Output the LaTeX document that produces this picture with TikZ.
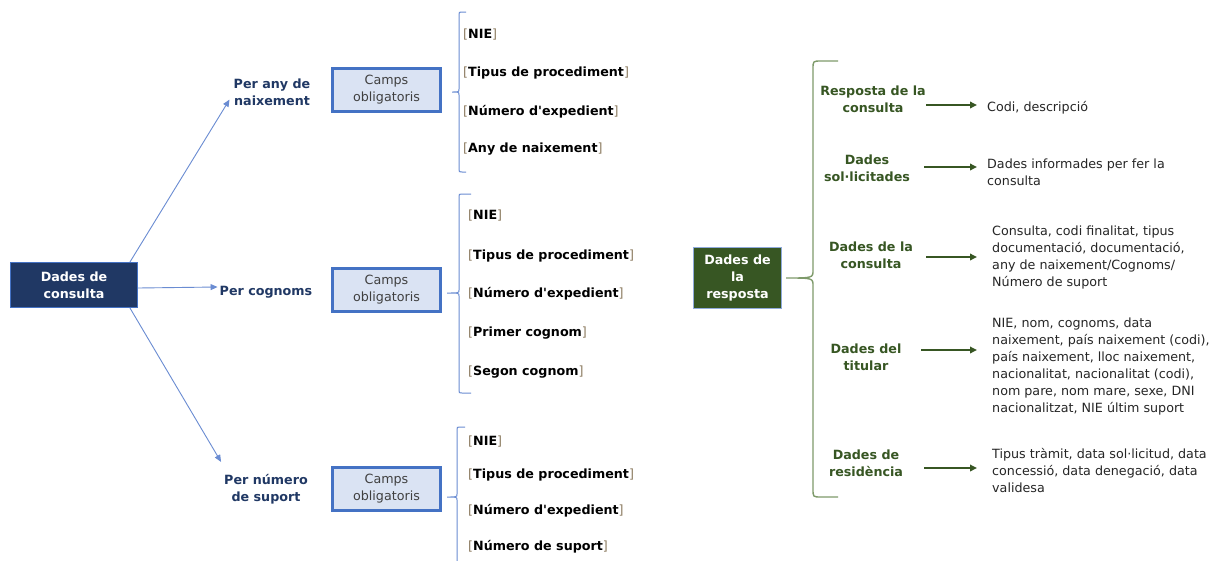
\documentclass[tikz,border=0pt]{standalone}
\usepackage{fontspec}
\setmainfont{DejaVu Sans}
\usetikzlibrary{arrows.meta,calc}
\definecolor{navy}{HTML}{203864}
\definecolor{blueln}{HTML}{4472C4}
\definecolor{bluethin}{HTML}{6A8CD2}
\definecolor{lightblue}{HTML}{DAE3F3}
\definecolor{dkgreen}{HTML}{375623}
\definecolor{brgreen}{HTML}{7E9A6A}
\definecolor{txt}{HTML}{262626}
\definecolor{camptxt}{HTML}{404040}
\definecolor{brk}{HTML}{8C7B60}
\definecolor{boxedge}{HTML}{8FAADC}
\newcommand{\fs}{\fontsize{12.7}{17}\selectfont}
\newcommand{\bk}[1]{{\mdseries\color{brk}[}#1{\mdseries\color{brk}]}}
% style, x, top, mid, bottom, hook x, tip x, cusp half height, corner radius
\newcommand{\sqbrace}[9]{%
  \draw[#1] (#6,#3) -- (#2+#9,#3) .. controls (#2,#3) .. (#2,#3+#9)
    -- (#2,#4-#8) .. controls (#2,#4) .. (#7,#4)
    .. controls (#2,#4) .. (#2,#4+#8)
    -- (#2,#5-#9) .. controls (#2,#5) .. (#2+#9,#5) -- (#6,#5);}
\tikzset{
  darkbox/.style={draw=blueln, line width=0.8pt, fill=navy, text=white,
    font=\fs\bfseries, align=center, minimum width=127pt, minimum height=45pt, inner sep=0pt},
  greenbox/.style={draw=boxedge, line width=0.8pt, fill=dkgreen, text=white,
    font=\fs\bfseries, align=center, minimum width=88pt, minimum height=61pt, inner sep=0pt},
  lbl/.style={font=\fs\bfseries, text=navy, align=center, inner sep=2pt},
  camps/.style={draw=blueln, line width=3pt, fill=lightblue, text=camptxt, font=\fs,
    align=center, minimum width=108pt, minimum height=43pt, inner sep=0pt},
  item/.style={font=\fs\bfseries, text=black, anchor=west, inner sep=0pt},
  barr/.style={draw=bluethin, line width=0.9pt, -{Triangle[length=7pt,width=6pt]}},
  bbr/.style={draw=bluethin, line width=1pt},
  gbr/.style={draw=brgreen, line width=1.4pt},
  glbl/.style={font=\fs\bfseries, text=dkgreen, align=center, inner sep=2pt},
  garr/.style={draw=dkgreen, line width=1.7pt, -{Triangle[length=7pt,width=6.5pt]}},
  desc/.style={font=\fs, text=txt, align=left, anchor=west, inner sep=0pt}
}
\begin{document}
\begin{tikzpicture}[x=1pt,y=-1pt]
\useasboundingbox (0,0) rectangle (1217,560);
\clip (0,0) rectangle (1217,560);
\fill[white] (0,0) rectangle (1217,560);

% ---------- left part ----------
\node[darkbox] (dc) at (74,285) {Dades de\\consulta};
\node[lbl] (pa) at (272,92) {Per any de\\naixement};
\node[lbl] (pc) at (266,292) {Per cognoms};
\node[lbl] (ps) at (266,489) {Per número\\de suport};

\draw[barr] ([xshift=-8pt]dc.north east) -- ([shift={(-2pt,8pt)}]pa.south west);
\draw[barr] ([yshift=-3pt]dc.east) -- ([yshift=5pt]pc.west);
\draw[barr] ([xshift=-8pt]dc.south east) -- ([shift={(-1pt,10pt)}]ps.north west);

\node[camps] (cb1) at (386.5,90) {Camps\\obligatoris};
\node[camps] (cb2) at (386.5,290) {Camps\\obligatoris};
\node[camps] (cb3) at (386.5,489) {Camps\\obligatoris};

\sqbrace{bbr}{459}{12}{92}{172}{466}{452}{3}{3}
\sqbrace{bbr}{459}{194}{293}{393}{471}{447}{3}{3}
\sqbrace{bbr}{457}{427}{497}{567}{465}{447}{3}{3}

\node[item] (g1a) at (463,35)  {\bk{NIE}};
\node[item] (g1b) at (463,73)  {\bk{Tipus de procediment}};
\node[item] (g1c) at (463,112) {\bk{Número d\textquotesingle expedient}};
\node[item] (g1d) at (463,149) {\bk{Any de naixement}};

\node[item] (g2a) at (468,216) {\bk{NIE}};
\node[item] (g2b) at (468,256) {\bk{Tipus de procediment}};
\node[item] (g2c) at (468,294) {\bk{Número d\textquotesingle expedient}};
\node[item] (g2d) at (468,333) {\bk{Primer cognom}};
\node[item] (g2e) at (468,372) {\bk{Segon cognom}};

\node[item] (g3a) at (468,442) {\bk{NIE}};
\node[item] (g3b) at (468,475) {\bk{Tipus de procediment}};
\node[item] (g3c) at (468,511) {\bk{Número d\textquotesingle expedient}};
\node[item] (g3d) at (468,547) {\bk{Número de suport}};

% ---------- right part ----------
\node[greenbox] (dr) at (737.5,278) {Dades de\\la\\resposta};
\sqbrace{gbr}{813}{61}{278}{497}{838}{786}{8}{8}

\node[glbl] (l1) at (873,99.5)  {Resposta de la\\consulta};
\node[glbl] (l2) at (867,168.5) {Dades\\sol·licitades};
\node[glbl] (l3) at (871,255.5) {Dades de la\\consulta};
\node[glbl] (l4) at (866,357.5) {Dades del\\titular};
\node[glbl] (l5) at (866,463)   {Dades de\\residència};

\node[desc] (d1) at (987,108)   {Codi, descripció};
\node[desc] (d2) at (987,172)   {Dades informades per fer la\\consulta};
\node[desc] (d3) at (992,257.5) {Consulta, codi finalitat, tipus\\documentació, documentació,\\any de naixement/Cognoms/\\Número de suport};
\node[desc] (d4) at (992,366.5) {NIE, nom, cognoms, data\\naixement, país naixement (codi),\\país naixement, lloc naixement,\\nacionalitat, nacionalitat (codi),\\nom pare, nom mare, sexe, DNI\\nacionalitzat, NIE últim suport};
\node[desc] (d5) at (992,471)   {Tipus tràmit, data sol·licitud, data\\concessió, data denegació, data\\validesa};

\coordinate (s1) at (926,105);
\coordinate (s2) at (924,167);
\coordinate (s3) at (926,257);
\coordinate (s4) at (921,350);
\coordinate (s5) at (924,468);
\draw[garr, shorten >=10pt] (s1) -- (s1 -| d1.west);
\draw[garr, shorten >=10pt] (s2) -- (s2 -| d2.west);
\draw[garr, shorten >=15pt] (s3) -- (s3 -| d3.west);
\draw[garr, shorten >=15pt] (s4) -- (s4 -| d4.west);
\draw[garr, shorten >=15pt] (s5) -- (s5 -| d5.west);
\end{tikzpicture}
\end{document}
